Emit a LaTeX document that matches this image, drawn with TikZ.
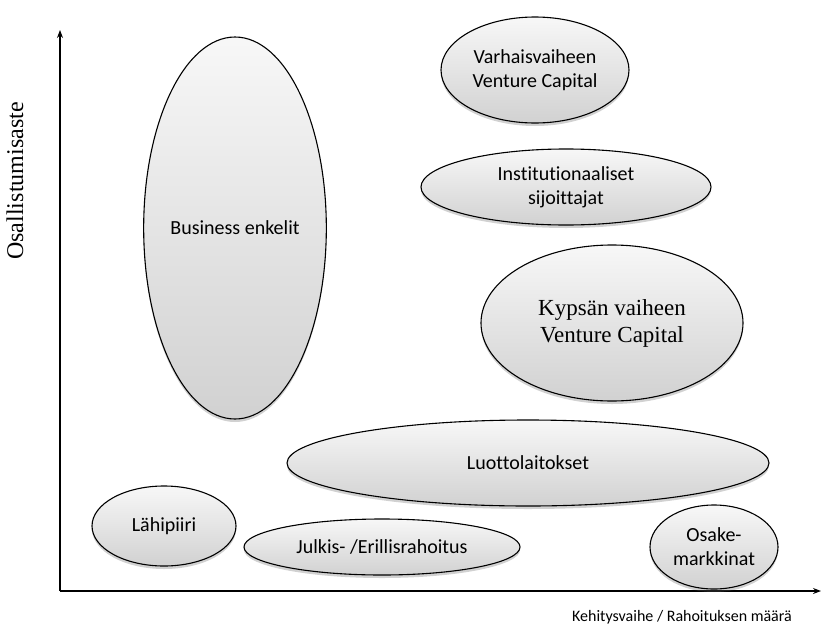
\documentclass[tikz,border=0pt]{standalone}
\usepackage{fontspec}
\setmainfont[Ligatures=NoCommon]{Carlito}
\newfontfamily\serifface{Liberation Serif}
\usetikzlibrary{shapes.geometric,shadows,arrows.meta}
\tikzset{
  blob/.style={ellipse, draw=black, line width=1.1pt, top color=white!97!black, bottom color=white!82!black,
    drop shadow={shadow xshift=0pt, shadow yshift=-3pt, opacity=0.3, fill=black!60},
    inner sep=0pt, align=center, font=\fontsize{20}{24}\selectfont},
  axisline/.style={line width=1.1pt, -{Stealth[length=8pt,width=6pt]}},
}
\begin{document}
\begin{tikzpicture}[x=1pt,y=1pt]
\useasboundingbox (0,0) rectangle (822,-632);
\coordinate (o) at (60,-591);
\coordinate (ytop) at (60,-30);
\coordinate (xend) at (821,-591);
\draw[axisline] (o) -- (ytop);
\draw[axisline] (o) -- (xend);
\node[blob, minimum width=188pt, minimum height=106pt] (varh) at (535,-70) {Varhaisvaiheen\\Venture Capital};
\node[blob, minimum width=290pt, minimum height=76pt] (inst) at (566,-187) {Institutionaaliset\\sijoittajat};
\node[blob, minimum width=262pt, minimum height=156pt, font=\serifface\fontsize{23}{27}\selectfont] (kyps) at (612,-323) {Kypsän vaiheen\\Venture Capital};
\node[blob, minimum width=170pt, minimum height=382pt] (bus) at (235,-228) {Business enkelit};
\node[blob, minimum width=482pt, minimum height=86pt] (luot) at (528,-463) {Luottolaitokset};
\node[blob, minimum width=144pt, minimum height=80pt] (lahi) at (164,-526) {Lähipiiri};
\node[blob, minimum width=276pt, minimum height=56pt] (julk) at (382,-547) {Julkis- /Erillisrahoitus};
\node[blob, minimum width=128pt, minimum height=84pt] (osak) at (714,-547) {Osake-\\markkinat};
\node[rotate=90, font=\serifface\fontsize{24}{28}\selectfont] (ylab) at (15,-181) {Osallistumisaste};
\node[font=\fontsize{16}{19}\selectfont] (xlab) at (682,-617) {Kehitysvaihe / Rahoituksen määrä};
\end{tikzpicture}
\end{document}
